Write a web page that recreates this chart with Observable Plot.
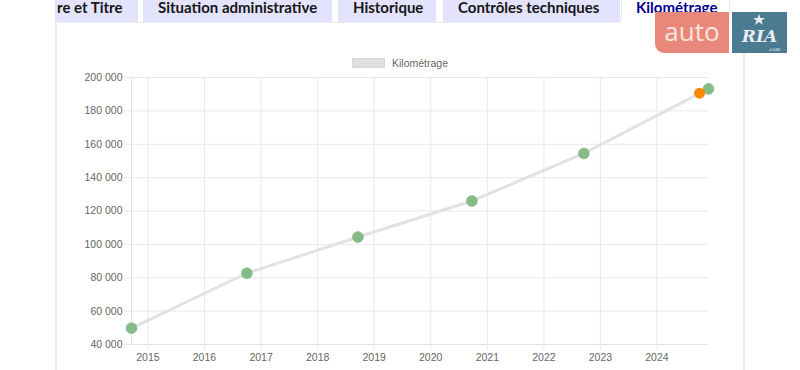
<!DOCTYPE html>
<html>
<head>
<meta charset="utf-8">
<script src="https://cdn.jsdelivr.net/npm/d3@7"></script>
<script src="https://cdn.jsdelivr.net/npm/@observablehq/plot@0.6"></script>
<style>
  html, body { margin: 0; padding: 0; background: #fff; width: 800px; height: 370px; overflow: hidden; }
  #wrap { position: relative; width: 800px; height: 370px; }
  .tab { position: absolute; top: 0; height: 22px; background: #e3e3fd; font-family: Lato, "Noto Sans", sans-serif; font-weight: 700; font-size: 15px; color: #161616; line-height: 15px; white-space: nowrap; overflow: hidden; box-sizing: border-box; }
  .tab span { position: absolute; top: 0; }
  .active { background: #fff; color: #000091; }
  #chart { position: absolute; left: 0; top: 0; }
  .legend { position: absolute; font-family: "Liberation Sans", Arial, sans-serif; font-size: 10.5px; color: #666; }
</style>
</head>
<body>
<div id="wrap">
  <div style="position:absolute;left:55px;top:22px;width:2px;height:348px;background:#ececec"></div>
  <div style="position:absolute;left:743px;top:22px;width:2px;height:348px;background:#ececec"></div>
  <div style="position:absolute;left:55px;top:22px;width:565px;height:1px;background:#ececec"></div>
  <div class="tab" style="left:55px;width:83px"><span style="left:2px">re et Titre</span></div>
  <div class="tab" style="left:143px;width:189px"><span style="left:15px">Situation administrative</span></div>
  <div class="tab" style="left:338px;width:98px"><span style="left:15px">Historique</span></div>
  <div class="tab" style="left:443px;width:177px"><span style="left:15px">Contrôles techniques</span></div>
  <div class="tab active" style="left:621px;width:109px;border-left:1px solid #ececec;border-right:1px solid #ececec"><span style="left:14px">Kilométrage</span></div>
  <div id="chart"></div>
  <div style="position:absolute;left:352px;top:58px;width:33px;height:10px;background:#e0e0e0;border:1px solid #d6d6d6;box-sizing:border-box"></div>
  <div class="legend" style="left:392px;top:57px">Kilométrage</div>
  <div style="position:absolute;left:655px;top:12px;width:74px;height:41px;background:#e8887b;border-bottom-left-radius:9px;color:#fbe3df;font-family:'Open Sans',sans-serif;font-size:26px;line-height:38px;text-align:center">auto</div>
  <div style="position:absolute;left:732px;top:12px;width:55px;height:41px;background:#4b7a91;color:#e8eef1;font-family:'DejaVu Serif',serif;font-weight:700;text-align:center">
    <svg style="position:absolute;left:21px;top:2px" width="12" height="11" viewBox="0 0 24 22"><polygon points="12,0 15,8 24,8 17,13 20,22 12,16 4,22 7,13 0,8 9,8" fill="#e8eef1"/></svg>
    <div style="position:absolute;left:0;top:16px;width:55px;font-size:17px;line-height:17px;font-style:italic">RIA</div>
    <div style="position:absolute;left:36px;top:35px;font-size:5px;line-height:5px;font-weight:400">.com</div>
  </div>
</div>
<script>
const dates = ["2014-09-17", "2016-10-01", "2018-09-18", "2020-09-23", "2022-09-16", "2024-11-29"];
const kms = [49800, 82700, 104400, 126000, 154500, 193200];
const latestDate = ["2024-10-02"];
const latestKm = [190600];
const yearTicks = [2015, 2016, 2017, 2018, 2019, 2020, 2021, 2022, 2023, 2024];
const kmTicks = [40000, 60000, 80000, 100000, 120000, 140000, 160000, 180000, 200000];

const parse = d3.utcParse("%Y-%m-%d");
const series = dates.map((d, i) => ({date: parse(d), km: kms[i]}));
const latest = latestDate.map((d, i) => ({date: parse(d), km: latestKm[i]}));
const xTicks = yearTicks.map(y => new Date(Date.UTC(y, 0, 1)));
const fmt = d => d3.format(",")(d).replace(/,/g, " ");
const d0 = series[0].date, d1 = series[series.length - 1].date;

const chart = Plot.plot({
  width: 800,
  height: 370,
  marginLeft: 131,
  marginRight: 92,
  marginTop: 77,
  marginBottom: 26,
  style: {fontFamily: "'Liberation Sans', Arial, sans-serif", fontSize: "10.5px", color: "#666", background: "transparent"},
  x: {type: "utc", domain: [d0, d1]},
  y: {domain: [40000, 200000]},
  marks: [
    Plot.gridY(kmTicks, {stroke: "#e8e8e8", strokeOpacity: 1}),
    Plot.gridX(xTicks, {stroke: "#e8e8e8", strokeOpacity: 1}),
    Plot.axisY(kmTicks, {tickSize: 7, tickPadding: 2, stroke: "#e8e8e8", fill: "#666", tickFormat: fmt, label: null}),
    Plot.axisX(xTicks, {tickSize: 6, tickPadding: 3, stroke: "#e8e8e8", fill: "#666", tickFormat: d3.utcFormat("%Y"), label: null}),
    Plot.ruleX([d0], {stroke: "#e2e2e2"}),
    Plot.ruleY([40000], {stroke: "#e2e2e2"}),
    Plot.line(series, {x: "date", y: "km", stroke: "#e2e2e2", strokeWidth: 3}),
    Plot.dot(series, {x: "date", y: "km", r: 5.5, fill: "#85bb85", stroke: "#7fb57f", strokeWidth: 0.5}),
    Plot.dot(latest, {x: "date", y: "km", r: 5.5, fill: "#ff8a00"})
  ]
});
document.getElementById("chart").appendChild(chart);
</script>
</body>
</html>
